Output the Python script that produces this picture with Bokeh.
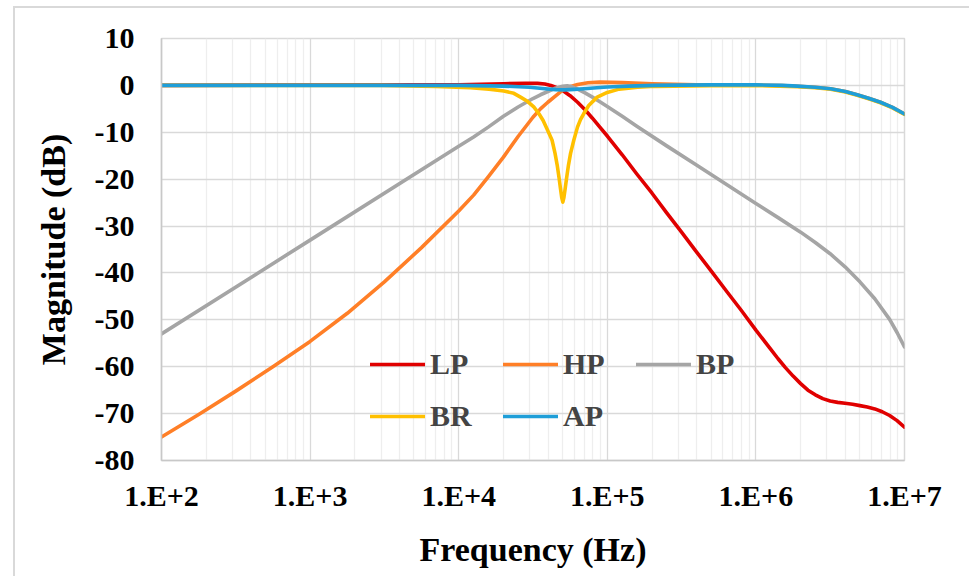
from bokeh.plotting import figure
from bokeh.models import FixedTicker, Legend, LegendItem
from bokeh.embed import file_html
from bokeh.resources import INLINE

# ---------------- data ----------------
lp_f = [1e2, 1e4, 2e4, 2.82e4, 3.39e4, 3.8e4, 4.17e4, 4.57e4, 5.01e4, 5.62e4,
        6.31e4, 7.08e4, 7.94e4, 8.91e4, 1e5, 1.26e5, 1.58e5, 2e5, 2.51e5, 3.16e5,
        3.98e5, 5.01e5, 6.31e5, 7.94e5, 1e6, 1.26e6, 1.41e6, 1.58e6, 1.78e6, 2e6,
        2.24e6, 2.51e6, 2.82e6, 3.16e6, 3.55e6, 3.98e6, 4.47e6, 5.01e6, 5.62e6,
        6.31e6, 7.08e6, 7.94e6, 8.91e6, 1e7]
lp_db = [0.0, 0.15, 0.35, 0.45, 0.45, 0.3, 0.0, -0.5, -1.1, -2.2,
         -3.6, -5.2, -7.0, -8.9, -10.8, -14.8, -18.9, -23.0, -27.2, -31.3,
         -35.5, -39.6, -43.8, -47.9, -52.2, -56.3, -58.3, -60.2, -62.0, -63.6,
         -65.0, -66.0, -66.8, -67.3, -67.6, -67.8, -68.0, -68.3, -68.6,
         -69.0, -69.6, -70.4, -71.5, -72.9]

hp_f = [1e2, 1.78e2, 3.16e2, 5.62e2, 1e3, 1.78e3, 3.16e3, 5.62e3, 1e4, 1.26e4,
        1.58e4, 2e4, 2.51e4, 3.16e4, 3.55e4, 3.98e4, 4.47e4, 5.01e4, 5.62e4,
        6.31e4, 7.41e4, 8.91e4, 1.26e5, 2e5, 3.98e5, 1e6, 1.5e6, 1.9e6, 2.5e6,
        3.18e6, 4e6, 4.8e6, 5.8e6, 6.89e6, 8.3e6, 1e7]
hp_db = [-75.0, -70.2, -65.2, -60.0, -54.6, -48.6, -41.9, -34.6, -26.8, -23.4,
         -19.5, -15.3, -10.9, -6.8, -5.0, -3.6, -2.3, -1.0, -0.3,
         0.2, 0.55, 0.7, 0.6, 0.35, 0.15, 0.05, -0.05, -0.2, -0.4,
         -0.7, -1.3, -2.0, -2.8, -3.6, -4.7, -6.1]

bp_f = [1e2, 1e3, 1e4, 1.26e4, 1.58e4, 2e4, 2.51e4, 3.16e4, 3.55e4, 3.98e4,
        4.47e4, 5.01e4, 5.37e4, 5.75e4, 6.31e4, 7.08e4, 7.94e4, 8.91e4, 1e5,
        1.26e5, 1.58e5, 2.51e5, 3.98e5, 6.31e5, 1e6, 1.41e6, 2e6, 2.51e6, 3.16e6,
        3.98e6, 5.01e6, 6.31e6, 7.94e6, 8.91e6, 1e7]
bp_db = [-53.0, -33.0, -13.0, -11.0, -8.9, -6.6, -4.6, -2.8, -2.0, -1.3,
         -0.6, -0.2, -0.1, -0.25, -0.8, -1.6, -2.5, -3.5, -4.5,
         -6.6, -8.7, -12.9, -17.0, -21.1, -25.2, -28.2, -31.3, -33.5, -35.9,
         -38.7, -41.9, -45.5, -49.9, -52.7, -55.8]

br_f = [1e2, 3e3, 7e3, 1.2e4, 1.6e4, 2.01e4, 2.35e4, 2.606e4, 2.9e4, 3.2e4,
        3.46e4, 3.7e4, 3.98e4, 4.25e4, 4.45e4, 4.6e4, 4.74e4, 4.84e4, 4.94e4,
        5.02e4, 5.1e4, 5.207e4, 5.32e4, 5.48e4, 5.66e4, 5.95e4, 6.3e4, 6.6e4,
        6.95e4, 7.5e4, 8.55e4, 1e5, 1.2e5, 1.6e5, 2.1e5, 5e5, 1e6, 1.9e6, 2.5e6,
        3.18e6, 4e6, 4.8e6, 5.8e6, 6.89e6, 8.3e6, 1e7]
br_db = [0.0, 0.0, -0.2, -0.5, -0.8, -1.2, -1.7, -2.5, -3.4, -4.6,
         -6.0, -7.5, -9.7, -11.7, -14.5, -17.0, -19.8, -22.0, -24.0,
         -24.9, -24.0, -22.0, -19.8, -17.0, -14.5, -11.7, -8.9, -7.3,
         -6.0, -4.3, -2.5, -1.5, -0.8, -0.4, -0.2, -0.05, 0.0, -0.3, -0.5,
         -0.8, -1.4, -2.1, -2.9, -3.7, -4.8, -6.2]

ap_f = [1e2, 1e4, 2e4, 3e4, 3.8e4, 4.5e4, 5.2e4, 6e4, 7e4, 8.5e4, 1e5, 1.4e5,
        2.1e5, 5e5, 1e6, 1.5e6, 1.9e6, 2.5e6, 3.18e6, 4e6, 4.8e6, 5.8e6, 6.89e6,
        8.3e6, 1e7]
ap_db = [0.0, 0.0, -0.15, -0.4, -0.7, -0.9, -0.95, -0.85, -0.7, -0.5, -0.35, -0.15,
         0.0, 0.1, 0.1, 0.0, -0.15, -0.4, -0.7, -1.3, -2.0, -2.8, -3.6,
         -4.7, -6.1]

x_ticks = [1e2, 1e3, 1e4, 1e5, 1e6, 1e7]
x_tick_labels = ["1.E+2", "1.E+3", "1.E+4", "1.E+5", "1.E+6", "1.E+7"]
y_ticks = [-80, -70, -60, -50, -40, -30, -20, -10, 0, 10]
y_tick_labels = ["-80", "-70", "-60", "-50", "-40", "-30", "-20", "-10", "0", "10"]

series_names = ["LP", "HP", "BP", "BR", "AP"]
series_colors = ["#e00000", "#ff7f27", "#a5a5a5", "#ffc000", "#1e9ed8"]

FONT = "Liberation Serif"

# canvas starts at x=15, y=8 (13/6 px margin + 2 px chart-area border)
p = figure(width=956, height=570, x_axis_type="log",
           x_range=(1e2, 1e7), y_range=(-80, 10),
           output_backend="svg", toolbar_location=None,
           min_border_left=146, min_border_right=67,
           min_border_top=30, min_border_bottom=118)
p.margin = (6, 0, 0, 13)
p.styles = {"border-left": "2px solid #d9d9d9", "border-top": "2px solid #d9d9d9"}

p.outline_line_color = "#d9d9d9"
p.outline_line_width = 1.5

minor = [m * 10 ** k for k in range(2, 7) for m in range(2, 10)]
p.xaxis.ticker = FixedTicker(ticks=x_ticks, minor_ticks=minor)
p.yaxis.ticker = FixedTicker(ticks=y_ticks)
p.xaxis.major_label_overrides = {t: l for t, l in zip(x_ticks, x_tick_labels)}
p.yaxis.major_label_overrides = {t: l for t, l in zip(y_ticks, y_tick_labels)}

p.xgrid.grid_line_color = "#d9d9d9"
p.xgrid.grid_line_width = 1.3
p.xgrid.minor_grid_line_color = "#eeeeee"
p.xgrid.minor_grid_line_width = 1.3
p.ygrid.grid_line_color = "#d9d9d9"
p.ygrid.grid_line_width = 1.3

for ax in (p.xaxis, p.yaxis):
    ax.axis_line_color = "#c8c8c8"
    ax.axis_line_width = 1.5
    ax.major_tick_line_color = None
    ax.minor_tick_line_color = None
    ax.major_tick_out = 0
    ax.major_tick_in = 0
    ax.minor_tick_out = 0
    ax.minor_tick_in = 0
    ax.major_label_text_font = FONT
    ax.major_label_text_font_style = "bold"
    ax.major_label_text_font_size = "30px"
    ax.major_label_text_color = "black"
    ax.axis_label_text_font = FONT
    ax.axis_label_text_font_style = "bold"
    ax.axis_label_text_font_size = "34px"
    ax.axis_label_text_color = "black"

p.xaxis.axis_label = "Frequency (Hz)"
p.yaxis.axis_label = "Magnitude (dB)"
p.xaxis.major_label_standoff = 18
p.yaxis.major_label_standoff = 27
p.xaxis.axis_label_standoff = 16
p.yaxis.axis_label_standoff = 20

data = [(lp_f, lp_db), (hp_f, hp_db), (bp_f, bp_db), (br_f, br_db), (ap_f, ap_db)]
renderers = []
for (f, db), c in zip(data, series_colors):
    r = p.line(f, db, line_color=c, line_width=3.6, line_join="round", line_cap="round")
    renderers.append(r)

common = dict(orientation="horizontal", glyph_width=55, glyph_height=30,
              label_text_font=FONT, label_text_font_style="bold",
              label_text_font_size="30px", label_standoff=5, label_width=60,
              spacing=13, padding=0, margin=0, border_line_alpha=0,
              background_fill_alpha=0, label_height=30)

leg1 = Legend(items=[LegendItem(label=series_names[i], renderers=[renderers[i]]) for i in (0, 1, 2)],
              location=(209, 79), **common)
leg2 = Legend(items=[LegendItem(label=series_names[i], renderers=[renderers[i]]) for i in (3, 4)],
              location=(209, 27), **common)
p.add_layout(leg1)
p.add_layout(leg2)

open("out.html", "w").write(file_html(p, INLINE))
